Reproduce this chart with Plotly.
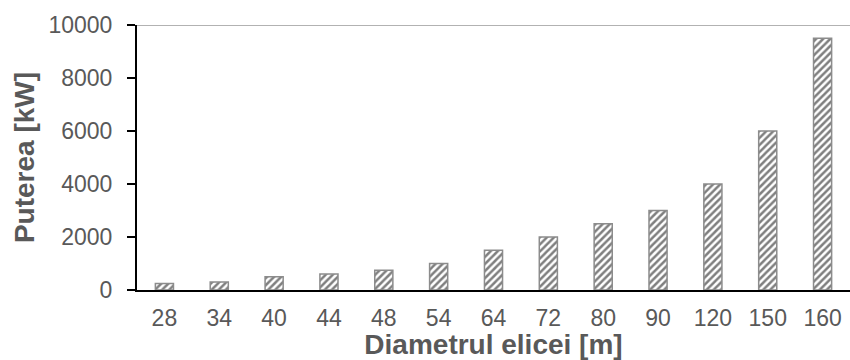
import plotly.graph_objects as go

# Rotor diameter categories and rated power
diametre = ["28", "34", "40", "44", "48", "54", "64", "72", "80", "90", "120", "150", "160"]
putere_kw = [250, 300, 500, 600, 750, 1000, 1500, 2000, 2500, 3000, 4000, 6000, 9500]
y_ticks = [0, 2000, 4000, 6000, 8000, 10000]
y_tick_text = ["0", "2000", "4000", "6000", "8000", "10000"]

FONT = "Liberation Sans, Arial, sans-serif"
GREY_TXT = "#595959"

fig = go.Figure(
    go.Bar(
        x=diametre,
        y=putere_kw,
        marker=dict(
            color="white",
            line=dict(color="#8c8c8c", width=1.5),
            pattern=dict(shape="/", fgcolor="black", bgcolor="white", size=5, solidity=0.5),
        ),
    )
)

fig.update_layout(
    width=850,
    height=360,
    margin=dict(l=137, r=0, t=25, b=70),
    plot_bgcolor="white",
    paper_bgcolor="white",
    bargap=0.67,
    showlegend=False,
    font=dict(family=FONT, color=GREY_TXT, size=22),
)

fig.update_xaxes(
    type="category",
    showline=True,
    linecolor="black",
    linewidth=2,
    showgrid=False,
    ticks="",
    ticklabelstandoff=6,
    tickfont=dict(size=23, color=GREY_TXT),
    title=dict(text="<b>Diametrul elicei [m]</b>", font=dict(size=28, color=GREY_TXT), standoff=0),
)

fig.update_yaxes(
    range=[0, 10000],
    tickvals=y_ticks,
    ticktext=y_tick_text,
    showline=True,
    linecolor="black",
    linewidth=2,
    ticks="outside",
    ticklen=8,
    tickwidth=2,
    tickcolor="black",
    ticklabelstandoff=10,
    showgrid=False,
    zeroline=False,
    tickfont=dict(size=23, color=GREY_TXT),
    title=dict(text="<b>Puterea [kW]</b>", font=dict(size=28, color=GREY_TXT), standoff=6),
)

# Upper border of the plotting area
fig.add_shape(
    type="line", xref="paper", yref="y", x0=0, x1=1, y0=10000, y1=10000,
    line=dict(color="#999999", width=1.5),
)

fig.write_html("out.html")
